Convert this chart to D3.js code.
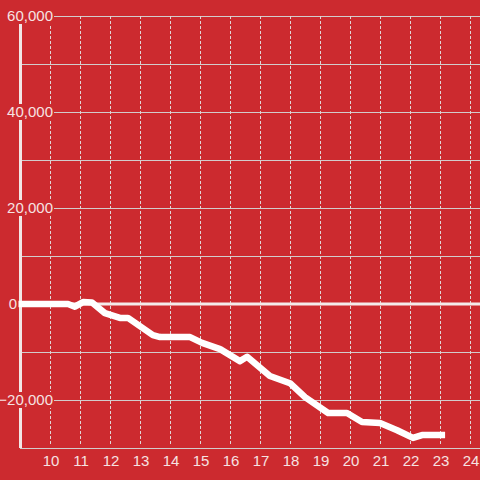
<!DOCTYPE html>
<html>
<head>
<meta charset="utf-8">
<script src="https://cdn.jsdelivr.net/npm/d3@7"></script>
<style>
  html, body { margin: 0; padding: 0; background: #cc2a2f; }
  svg { display: block; }
  text { font-family: "Liberation Sans", Arial, sans-serif; font-size: 15px; fill: #f6e2e2; }
</style>
</head>
<body>
<div id="chart"></div>
<script>
// Chart data (hour of day, running balance)
const hours = [8.95, 10.6, 10.83, 11.1, 11.4, 11.83, 12.33, 12.6, 13.43, 13.67, 14.67, 15.07, 15.67,
  16.33, 16.57, 17.33, 18.0, 18.5, 19.27, 19.9, 20.4, 21.0, 21.57, 22.1, 22.4, 23.17];
const values = [0, 0, -560, 400, 300, -1900, -2900, -2900, -6500, -6900, -6900, -8100, -9400,
  -11900, -11000, -15000, -16500, -19400, -22700, -22700, -24600, -24800, -26300, -27900, -27300, -27300];

const xTicks = [10, 11, 12, 13, 14, 15, 16, 17, 18, 19, 20, 21, 22, 23, 24];
const yGrid = [60000, 50000, 40000, 30000, 20000, 10000, 0, -10000, -20000, -30000];
const yLabels = [60000, 40000, 20000, 0, -20000];

const width = 480, height = 480;
const bg = '#cc2a2f';

const svg = d3.select('#chart').append('svg')
  .attr('width', width)
  .attr('height', height);

svg.append('rect').attr('width', width).attr('height', height).attr('fill', bg);

const x = d3.scaleLinear().domain([9, 24]).range([20, 470]);
const y = d3.scaleLinear().domain([-30000, 60000]).range([448, 16]);

// horizontal grid
svg.append('g')
  .selectAll('line')
  .data(yGrid.filter(d => d !== 0))
  .join('line')
  .attr('x1', d => yLabels.includes(d) ? 54 : 20)
  .attr('x2', width)
  .attr('y1', d => Math.round(y(d)) + 0.5)
  .attr('y2', d => Math.round(y(d)) + 0.5)
  .attr('stroke', '#d2cccc')
  .attr('stroke-width', 1);

// vertical dashed grid
svg.append('g')
  .selectAll('line')
  .data(xTicks)
  .join('line')
  .attr('x1', d => Math.round(x(d)) + 0.5)
  .attr('x2', d => Math.round(x(d)) + 0.5)
  .attr('y1', y(60000))
  .attr('y2', y(-30000) - 2)
  .attr('stroke', '#e0d6d6')
  .attr('stroke-width', 1)
  .attr('stroke-dasharray', '3,2');

// y axis line
svg.append('line')
  .attr('x1', 20.5).attr('x2', 20.5)
  .attr('y1', y(60000)).attr('y2', y(-30000))
  .attr('stroke', '#f2e6e6')
  .attr('stroke-width', 3);

// zero line
svg.append('line')
  .attr('x1', 20).attr('x2', width)
  .attr('y1', y(0)).attr('y2', y(0))
  .attr('stroke', '#f4eaea')
  .attr('stroke-width', 3);

// y labels with background box
const fmt = d3.format(',');
const yl = svg.append('g').selectAll('g')
  .data(yLabels)
  .join('g');

yl.filter(d => d !== 0).append('rect')
  .attr('x', 0)
  .attr('width', 54)
  .attr('y', d => y(d) - 8)
  .attr('height', 16)
  .attr('fill', bg);

yl.append('text')
  .attr('x', d => d === 0 ? 17 : 53)
  .attr('y', d => y(d))
  .attr('dy', '0.36em')
  .attr('text-anchor', 'end')
  .text(d => fmt(d));

// x labels
svg.append('g')
  .selectAll('text')
  .data(xTicks)
  .join('text')
  .attr('x', d => x(d) + 1)
  .attr('y', 466)
  .attr('text-anchor', 'middle')
  .text(d => d);

// data line
const line = d3.line()
  .x((d, i) => x(hours[i]))
  .y(d => y(d));

svg.append('path')
  .datum(values)
  .attr('d', line)
  .attr('fill', 'none')
  .attr('stroke', '#ffffff')
  .attr('stroke-width', 6.5)
  .attr('stroke-linejoin', 'round');
</script>
</body>
</html>
